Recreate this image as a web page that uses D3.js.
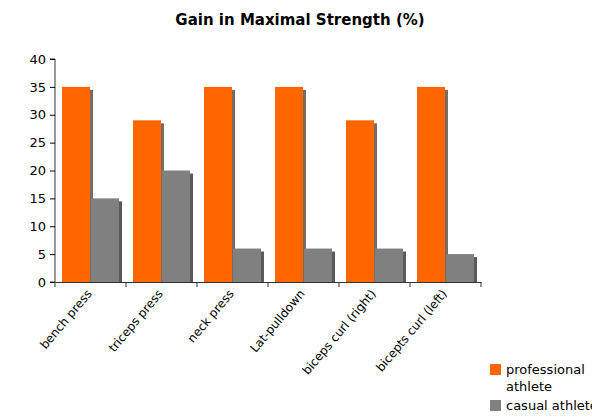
<!DOCTYPE html>
<html><head><meta charset="utf-8">
<script src="https://cdn.jsdelivr.net/npm/d3@7"></script>
<style>body{margin:0;background:#fff;font-family:Verdana,"DejaVu Sans",sans-serif;}</style>
</head><body><svg id="c" width="592" height="418"></svg>
<script>
var categories = ['bench press','triceps press','neck press','Lat-pulldown','biceps curl (right)','bicepts curl (left)'];
var professional = [35, 29, 35, 35, 29, 35];
var casual = [15, 20, 6, 6, 6, 5];
var yTicks = [0, 5, 10, 15, 20, 25, 30, 35, 40];

var svg = d3.select('#c');
var orange = '#ff6600', grey = '#808080';
var x = d3.scaleBand().domain(categories).range([55, 481]);
var y = d3.scaleLinear().domain([0, 40]).range([282, 59]);

svg.append('text').attr('x', 300).attr('y', 25).attr('text-anchor', 'middle')
  .attr('font-weight', 'bold').attr('font-size', '15px').text('Gain in Maximal Strength (%)');

var yAxis = svg.append('g').attr('transform', 'translate(55,0)')
  .call(d3.axisLeft(y).tickValues(yTicks).tickSize(5).tickPadding(4));
yAxis.selectAll('text').attr('font-size', '13px').attr('fill', '#000').style('font-family', 'Verdana,"DejaVu Sans",sans-serif');
yAxis.select('.domain').attr('stroke', '#333').attr('d', 'M-5,59H0V282H-5');

var xAxis = svg.append('g').attr('transform', 'translate(0,282)')
  .call(d3.axisBottom(x).tickSize(0).tickFormat(''));
xAxis.select('.domain').attr('stroke', '#333');
svg.append('g').selectAll('line').data(d3.range(categories.length + 1)).enter().append('line')
  .attr('x1', function(i) { return 55 + i * x.step(); }).attr('x2', function(i) { return 55 + i * x.step(); })
  .attr('y1', 282).attr('y2', 287).attr('stroke', '#333');

var bw = 29;
var data = [];
categories.forEach(function(c, i) {
  data.push({ c: c, v: professional[i], dx: 7, fill: orange, sh: '#7a6a60' });
  data.push({ c: c, v: casual[i], dx: 7 + bw, fill: grey, sh: '#5a5a5a' });
});
var g = svg.append('g');
g.selectAll('rect.sh').data(data).enter().append('rect')
  .attr('x', function(d) { return x(d.c) + d.dx + bw - 1; }).attr('y', function(d) { return y(d.v) + 3; })
  .attr('width', 3).attr('height', function(d) { return 282 - y(d.v) - 3; }).attr('fill', function(d) { return d.sh; });
g.selectAll('rect.bar').data(data).enter().append('rect')
  .attr('x', function(d) { return x(d.c) + d.dx; }).attr('y', function(d) { return y(d.v); })
  .attr('width', bw - 1).attr('height', function(d) { return 282 - y(d.v); }).attr('fill', function(d) { return d.fill; });

svg.append('g').selectAll('text').data(categories).enter().append('text')
  .attr('transform', function(d) { return 'translate(' + (x(d) + x.bandwidth() / 2 + 2) + ',294) rotate(-50)'; })
  .attr('text-anchor', 'end').attr('font-size', '12px').text(function(d) { return d; });

var lg = svg.append('g');
lg.append('rect').attr('x', 490).attr('y', 364).attr('width', 11).attr('height', 11).attr('fill', orange);
lg.append('text').attr('x', 506).attr('y', 374).attr('font-size', '13px').text('professional');
lg.append('text').attr('x', 506).attr('y', 391).attr('font-size', '13px').text('athlete');
lg.append('rect').attr('x', 490).attr('y', 400).attr('width', 11).attr('height', 11).attr('fill', grey);
lg.append('text').attr('x', 506).attr('y', 410).attr('font-size', '13px').text('casual athlete');
</script></body></html>
